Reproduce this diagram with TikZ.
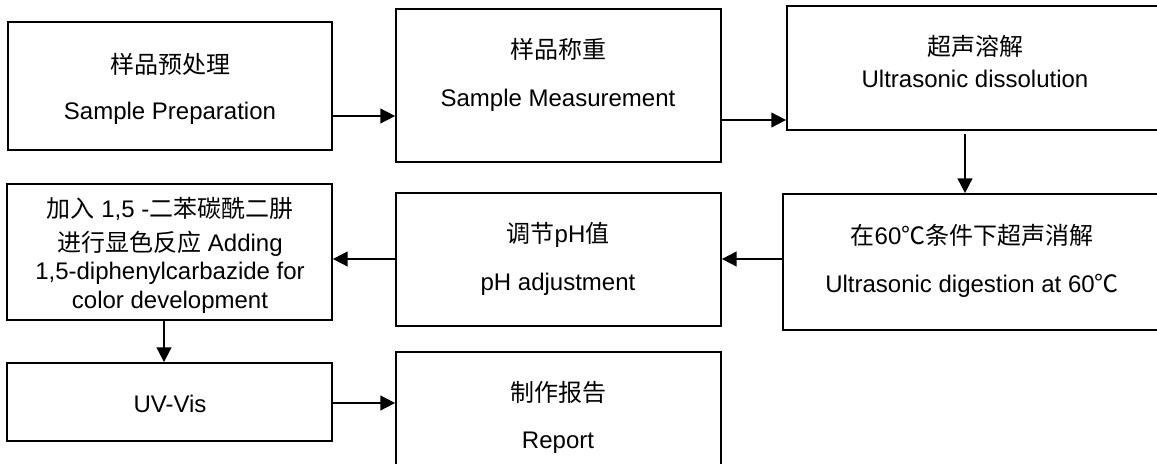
\documentclass[tikz,border=0pt]{standalone}
\usepackage{fontspec}
\setmainfont{Liberation Sans}
\newfontfamily\cjk{Noto Sans CJK SC}
\usetikzlibrary{arrows.meta,fit}
\begin{document}
\begin{tikzpicture}[x=0.75pt,y=-0.75pt,
  box/.style={draw=black,line width=1.3pt,inner sep=0pt,fill=white},
  txt/.style={anchor=base,inner sep=0pt,font=\fontsize{18}{21}\selectfont},
  arr/.style={draw=black,line width=1.3pt,-{Triangle[length=11pt,width=11pt]}}]
\useasboundingbox (0,0) rectangle (1157,464);
\clip (0,0) rectangle (1157,464);
% boxes
\node[box,fit={(8,22) (332,150)}] (b1) {};
\node[box,fit={(396,9) (721,162)}] (b2) {};
\node[box,fit={(787,6) (1164,130)}] (b3) {};
\node[box,fit={(783,194) (1162,330)}] (b4) {};
\node[box,fit={(396,193) (721,326)}] (b5) {};
\node[box,fit={(7,184) (332,320)}] (b6) {};
\node[box,fit={(7,363) (332,441)}] (b7) {};
\node[box,fit={(396,352) (721,480)}] (b8) {};
% texts
\node[txt] (t1a) at (170,73) {{\cjk 样品预处理}};
\node[txt] (t1b) at (170,119) {Sample Preparation};
\node[txt] (t2a) at (558,58) {{\cjk 样品称重}};
\node[txt] (t2b) at (558,106) {Sample Measurement};
\node[txt] (t3a) at (975,55) {{\cjk 超声溶解}};
\node[txt] (t3b) at (975,87) {Ultrasonic dissolution};
\node[txt] (t4a) at (972,244) {{\cjk 在}60{\cjk ℃条件下超声消解}};
\node[txt] (t4b) at (972,292) {Ultrasonic digestion at 60{\cjk ℃}};
\node[txt] (t5a) at (558,242) {{\cjk 调节}pH{\cjk 值}};
\node[txt] (t5b) at (558,290) {pH adjustment};
\node[txt] (t6a) at (170,217) {{\cjk 加入} 1,5 -{\cjk 二苯碳酰二肼}};
\node[txt] (t6b) at (170,251) {{\cjk 进行显色反应} Adding};
\node[txt] (t6c) at (170,279) {1,5-diphenylcarbazide for};
\node[txt] (t6d) at (170,308) {color development};
\node[txt] (t7) at (170,412) {UV-Vis};
\node[txt] (t8a) at (558,401) {{\cjk 制作报告}};
\node[txt] (t8b) at (558,448) {Report};
% connector levels
\coordinate (y12) at (0,116);
\coordinate (y23) at (0,120);
\coordinate (x34) at (965,0);
\coordinate (s34) at (965,134);
\coordinate (y45) at (0,259);
\coordinate (x67) at (164,0);
\coordinate (y78) at (0,403);
% connectors
\draw[arr] (b1.east |- y12) -- (b2.west |- y12);
\draw[arr] (b2.east |- y23) -- (b3.west |- y23);
\draw[arr] (s34) -- (x34 |- b4.north);
\draw[arr] (b4.west |- y45) -- (b5.east |- y45);
\draw[arr] (b5.west |- y45) -- (b6.east |- y45);
\draw[arr] (x67 |- b6.south) -- (x67 |- b7.north);
\draw[arr] (b7.east |- y78) -- (b8.west |- y78);
\end{tikzpicture}
\end{document}
